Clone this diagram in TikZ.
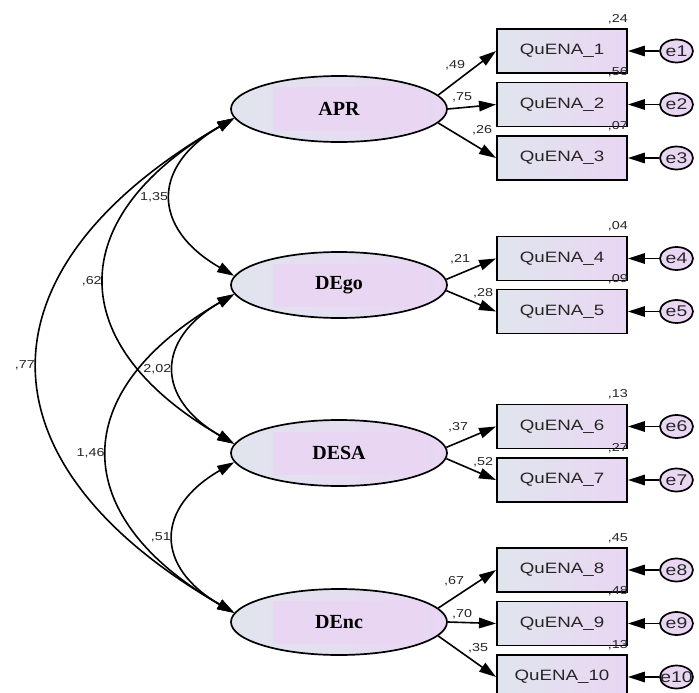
\documentclass[tikz,border=0pt]{standalone}
\usepackage{fontspec}
\usetikzlibrary{shapes.geometric,arrows.meta}

\newfontfamily\amossans[FakeStretch=1.25]{Liberation Sans}
\newfontfamily\amosserif{Liberation Serif}
\definecolor{amosblue}{RGB}{224,229,237}
\definecolor{amospink}{RGB}{233,214,243}

\begin{document}
\begin{tikzpicture}[x=1pt, y=-1pt, >={Triangle[length=17pt,width=10.5pt]},
    latent/.style={ellipse, draw, line width=1.7pt, minimum width=216pt, minimum height=66pt,
      left color=amosblue, right color=amospink,
      font=\amosserif\bfseries\fontsize{20}{22}\selectfont,
      path picture={\fill[amospink] ([xshift=-66pt,yshift=-21.5pt]path picture bounding box.center) rectangle ++(150pt,43pt);}},
    item/.style={rectangle, draw, line width=1.9pt, minimum width=130pt, minimum height=44pt,
      left color=amosblue, right color=amospink, text=black!85,
      font=\amossans\fontsize{15}{17}\selectfont},
    error/.style={ellipse, draw, line width=1.7pt, minimum width=33pt, minimum height=23pt,
      inner sep=0pt, fill=amospink, text=black!85, font=\amossans\fontsize{15.5}{17}\selectfont,
      execute at begin node={\hbox to 0pt\bgroup\hss}, execute at end node={\hss\egroup}},
    coef/.style={font=\amossans\fontsize{11.5}{13}\selectfont, text=black!85, inner sep=1pt},
    regr/.style={->, line width=1.6pt},
    cov/.style={<->, line width=1.6pt, out=210, in=150, looseness=1.56}]

  \useasboundingbox (0,0) rectangle (699,693);

  %% latent factors
  \node[latent] (APR)  at (339,109) {APR};
  \node[latent] (DEgo) at (339,285) {DEgo};
  \node[latent] (DESA) at (339,453) {DESA};
  \node[latent] (DEnc) at (339,622) {DEnc};

  %% observed items
  \node[item] (q1)  at (562,51)    {QuENA\_1};
  \node[item] (q2)  at (562,104.5) {QuENA\_2};
  \node[item] (q3)  at (562,158)   {QuENA\_3};
  \node[item] (q4)  at (562,258.5) {QuENA\_4};
  \node[item] (q5)  at (562,311.5) {QuENA\_5};
  \node[item] (q6)  at (562,426.5) {QuENA\_6};
  \node[item] (q7)  at (562,480)   {QuENA\_7};
  \node[item] (q8)  at (562,570)   {QuENA\_8};
  \node[item] (q9)  at (562,623.5) {QuENA\_9};
  \node[item] (q10) at (562,677)   {QuENA\_10};

  %% error terms
  \node[error] (e1)  at (676.5,51)    {e1};
  \node[error] (e2)  at (676.5,104.5) {e2};
  \node[error] (e3)  at (676.5,158)   {e3};
  \node[error] (e4)  at (676.5,258.5) {e4};
  \node[error] (e5)  at (676.5,311.5) {e5};
  \node[error] (e6)  at (676.5,426.5) {e6};
  \node[error] (e7)  at (676.5,480)   {e7};
  \node[error] (e8)  at (676.5,570)   {e8};
  \node[error] (e9)  at (676.5,623.5) {e9};
  \node[error] (e10) at (676.5,677)   {e10};

  \draw[regr] (e1) -- (q1);
  \draw[regr] (e2) -- (q2);
  \draw[regr] (e3) -- (q3);
  \draw[regr] (e4) -- (q4);
  \draw[regr] (e5) -- (q5);
  \draw[regr] (e6) -- (q6);
  \draw[regr] (e7) -- (q7);
  \draw[regr] (e8) -- (q8);
  \draw[regr] (e9) -- (q9);
  \draw[regr] (e10) -- (q10);

  %% loadings
  \draw[regr] (APR.8)    -- (q1.west);
  \draw[regr] (APR.east) -- (q2.west);
  \draw[regr] (APR.-8)   -- (q3.west);
  \draw[regr] (DEgo.3)   -- (q4.west);
  \draw[regr] (DEgo.-3)  -- (q5.west);
  \draw[regr] (DESA.3)   -- (q6.west);
  \draw[regr] (DESA.-3)  -- (q7.west);
  \draw[regr] (DEnc.8)   -- (q8.west);
  \draw[regr] (DEnc.east) -- (q9.west);
  \draw[regr] (DEnc.-8)  -- (q10.west);

  \node[coef] (w1)  at (455,65)  {,49};
  \node[coef] (w2)  at (462,97)  {,75};
  \node[coef] (w3)  at (482,130) {,26};
  \node[coef] (w4)  at (460,259) {,21};
  \node[coef] (w5)  at (483,293) {,28};
  \node[coef] (w6)  at (458,427) {,37};
  \node[coef] (w7)  at (483,462) {,52};
  \node[coef] (w8)  at (454,581) {,67};
  \node[coef] (w9)  at (462,614) {,70};
  \node[coef] (w10) at (478,648) {,35};

  %% squared multiple correlations
  \node[coef, anchor=south east, inner xsep=0pt] (r1)  at ([yshift=3pt]q1.north east)  {,24};
  \node[coef, anchor=south east, inner xsep=0pt] (r2)  at ([yshift=3pt]q2.north east)  {,56};
  \node[coef, anchor=south east, inner xsep=0pt] (r3)  at ([yshift=3pt]q3.north east)  {,07};
  \node[coef, anchor=south east, inner xsep=0pt] (r4)  at ([yshift=3pt]q4.north east)  {,04};
  \node[coef, anchor=south east, inner xsep=0pt] (r5)  at ([yshift=3pt]q5.north east)  {,09};
  \node[coef, anchor=south east, inner xsep=0pt] (r6)  at ([yshift=3pt]q6.north east)  {,13};
  \node[coef, anchor=south east, inner xsep=0pt] (r7)  at ([yshift=3pt]q7.north east)  {,27};
  \node[coef, anchor=south east, inner xsep=0pt] (r8)  at ([yshift=3pt]q8.north east)  {,45};
  \node[coef, anchor=south east, inner xsep=0pt] (r9)  at ([yshift=3pt]q9.north east)  {,48};
  \node[coef, anchor=south east, inner xsep=0pt] (r10) at ([yshift=3pt]q10.north east) {,13};

  %% covariances between factors
  \draw[cov] (APR.185)  to node[coef, midway, left=2pt] (c1) {1,35} (DEgo.175);
  \draw[cov] (APR.185)  to node[coef, midway, left=2pt] (c2) {,62}  (DESA.175);
  \draw[cov] (APR.185)  to node[coef, midway, left=2pt] (c3) {,77}  (DEnc.175);
  \draw[cov] (DEgo.185) to node[coef, midway, left=2pt] (c4) {2,02} (DESA.175);
  \draw[cov] (DEgo.185) to node[coef, midway, left=2pt] (c5) {1,46} (DEnc.175);
  \draw[cov] (DESA.185) to node[coef, midway, left=2pt] (c6) {,51}  (DEnc.175);

\end{tikzpicture}
\end{document}
